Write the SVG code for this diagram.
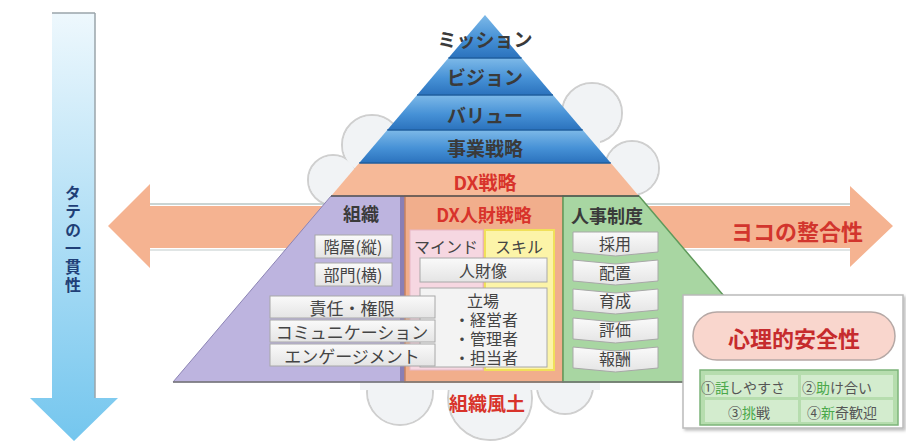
<svg xmlns="http://www.w3.org/2000/svg" width="906" height="441" viewBox="0 0 906 441">
<defs>
<linearGradient id="gVert" x1="0" y1="0" x2="0" y2="1">
<stop offset="0" stop-color="#eef8fd"/>
<stop offset="1" stop-color="#74c6ee"/>
</linearGradient>
<linearGradient id="gBlue" x1="0" y1="0" x2="0" y2="1">
<stop offset="0" stop-color="#7db9e8"/>
<stop offset="0.55" stop-color="#4691d6"/>
<stop offset="1" stop-color="#2b72bd"/>
</linearGradient>
<linearGradient id="gBox" x1="0" y1="0" x2="0" y2="1">
<stop offset="0" stop-color="#fafafa"/>
<stop offset="1" stop-color="#e4e4e4"/>
</linearGradient>
<filter id="sh" x="-10%" y="-10%" width="130%" height="130%">
<feDropShadow dx="2" dy="2" stdDeviation="1.5" flood-color="#000" flood-opacity="0.25"/>
</filter>
</defs>
<style>
text{font-family:"Noto Sans CJK JP","Noto Sans",sans-serif;text-anchor:middle;dominant-baseline:central}
.t{font-weight:bold;fill:#3a3a3a}
.r{font-weight:bold;fill:#d8332b}
.bx{fill:url(#gBox);stroke:#a8a8a8;stroke-width:1}
.n{fill:#444;font-size:16px}
.cl{fill:#f1f3f5;stroke:#cfcfcf;stroke-width:2}
.clf{fill:#f1f3f5}
</style>
<rect width="906" height="441" fill="#ffffff"/>

<g id="vertical-arrow">
<path d="M52,13 H95 V398 H118 L74,441 L30,398 H52 Z" fill="url(#gVert)"/>
<path d="M95,13 V398" stroke="#9aa4aa" stroke-width="1.5"/>
<path d="M52,13 H95" stroke="#9aa4aa" stroke-width="1.5"/>
<text class="t" x="73" y="240" writing-mode="vertical-rl" style="fill:#1f3f77;font-size:16px;letter-spacing:2.5px">タテの一貫性</text>
</g>

<g id="cloud">
<circle class="cl" cx="333" cy="180" r="25"/>
<circle class="cl" cx="372" cy="145" r="30"/>
<circle class="cl" cx="592" cy="113" r="30"/>
<circle class="cl" cx="632" cy="168" r="27"/>
<circle class="cl" cx="400" cy="392" r="33"/>
<circle class="cl" cx="490" cy="398" r="42"/>
<circle class="cl" cx="565" cy="386" r="28"/>
<circle class="clf" cx="333" cy="180" r="24"/>
<circle class="clf" cx="372" cy="145" r="29"/>
<circle class="clf" cx="592" cy="113" r="29"/>
<circle class="clf" cx="632" cy="168" r="26"/>
<circle class="clf" cx="400" cy="392" r="32"/>
<circle class="clf" cx="490" cy="398" r="41"/>
<circle class="clf" cx="565" cy="386" r="27"/>
<rect class="clf" x="360" y="130" width="240" height="260"/>
</g>

<g id="horizontal-arrow">
<path d="M150,204 H850" stroke="#b9c6c4" stroke-width="1.5"/>
<path d="M150,250 H850" stroke="#d6dcdc" stroke-width="1.5"/>
<path d="M108,226 L150,184 V206 H850 V186 L893,226 L850,267 V248 H150 V268 Z" fill="#f5b391"/>
<text class="r" x="797" y="230" style="font-size:22px;fill:#d2352d">ヨコの整合性</text>
</g>

<g id="pyramid">
<polygon points="485,15 521.6,58 448.4,58" fill="url(#gBlue)"/>
<polygon points="448.4,58 521.6,58 553,95 417,95" fill="url(#gBlue)"/>
<polygon points="417,95 553,95 582.75,130 387.25,130" fill="url(#gBlue)"/>
<polygon points="387.25,130 582.75,130 610.8,163 359.2,163" fill="url(#gBlue)"/>
<polygon points="359.2,163 610.8,163 638.85,196 331.15,196" fill="#f6b998"/>
<g stroke="#1f5e9e" stroke-width="1.5">
<line x1="448.4" y1="58" x2="521.6" y2="58"/>
<line x1="417" y1="95" x2="553" y2="95"/>
<line x1="387.25" y1="130" x2="582.75" y2="130"/>
<line x1="359.2" y1="163" x2="610.8" y2="163"/>
</g>
<text class="t" x="485" y="38" style="font-size:19px">ミッション</text>
<text class="t" x="485" y="76" style="font-size:19px">ビジョン</text>
<text class="t" x="485" y="114" style="font-size:19px">バリュー</text>
<text class="t" x="485" y="147" style="font-size:19px">事業戦略</text>
<text class="r" x="485" y="181" style="font-size:19px">DX戦略</text>
</g>

<g id="soshiki">
<polygon points="331,196 405,196 405,382 173,382" fill="#bdb4df" stroke="#8c84b4" stroke-width="1"/>
<rect x="400" y="196" width="5" height="186" fill="#8a7fb5"/>
<text class="t" x="361" y="213" style="font-size:18px">組織</text>
<rect class="bx" x="315" y="235" width="77" height="23"/>
<text class="n" x="353" y="246">階層(縦)</text>
<rect class="bx" x="315" y="263" width="77" height="23"/>
<text class="n" x="353" y="274">部門(横)</text>
</g>

<g id="dx-jinzai">
<rect x="405" y="196" width="158" height="186" fill="#f1ae8c" stroke="#c8835f" stroke-width="1.5"/>
<text class="r" x="484" y="214" style="font-size:18px">DX人財戦略</text>
<rect x="410" y="230" width="73" height="140" fill="#f6d7e1" stroke="#e7b8c6" stroke-width="1"/>
<rect x="485" y="230" width="69" height="140" fill="#fcf4a8" stroke="#f0e05a" stroke-width="2"/>
<text class="n" x="446" y="246">マインド</text>
<text class="n" x="519" y="246">スキル</text>
<rect class="bx" x="420" y="258" width="127" height="24"/>
<text class="n" x="483" y="270">人財像</text>
<rect class="bx" x="420" y="288" width="127" height="79" style="fill:#f3f3f3"/>
<text class="n"><tspan x="483" y="300">立場</tspan><tspan x="486" y="319">・経営者</tspan><tspan x="486" y="338">・管理者</tspan><tspan x="486" y="357">・担当者</tspan></text>
</g>

<g id="soshiki-items">
<rect class="bx" x="270" y="296" width="165" height="22"/>
<text class="n" x="352" y="307" style="font-size:17px">責任・権限</text>
<rect class="bx" x="270" y="320" width="165" height="22"/>
<text class="n" x="352" y="331" style="font-size:17px">コミュニケーション</text>
<rect class="bx" x="270" y="344" width="165" height="22"/>
<text class="n" x="352" y="355" style="font-size:17px">エンゲージメント</text>
</g>

<g id="jinji">
<polygon points="563,196 639,196 797,382 563,382" fill="#a8d6a2" stroke="#5f9a5b" stroke-width="1.5"/>
<text class="t" x="607" y="215" style="font-size:18px">人事制度</text>
<path class="bx" d="M573,232 L658,232 L658,252 L615.5,256 L573,252 Z"/>
<text class="n" x="615" y="243">採用</text>
<path class="bx" d="M573,260 L615.5,264 L658,260 L658,281 L615.5,285 L573,281 Z"/>
<text class="n" x="615" y="272">配置</text>
<path class="bx" d="M573,289 L615.5,293 L658,289 L658,310 L615.5,314 L573,310 Z"/>
<text class="n" x="615" y="300">育成</text>
<path class="bx" d="M573,318 L615.5,322 L658,318 L658,339 L615.5,343 L573,339 Z"/>
<text class="n" x="615" y="329">評価</text>
<path class="bx" d="M573,347 L615.5,351 L658,347 L658,368 L615.5,372 L573,368 Z"/>
<text class="n" x="615" y="358">報酬</text>
</g>
<line x1="331" y1="196" x2="639" y2="196" stroke="#555" stroke-width="1.5"/>
<line x1="173" y1="382" x2="700" y2="382" stroke="#777" stroke-width="1.5"/>

<text id="soshiki-fudo" class="r" x="487" y="402" style="font-size:19px">組織風土</text>

<g id="psych-safety">
<rect x="683" y="295" width="220" height="133" fill="#ffffff" stroke="#bbbbbb" stroke-width="1.5" filter="url(#sh)"/>
<rect x="693" y="312" width="202" height="48" rx="24" fill="#f9d6cd" stroke="#b5a8a5" stroke-width="1.5"/>
<text class="r" x="794" y="337" style="font-size:22px;fill:#c62b2d">心理的安全性</text>
<rect x="700" y="370" width="198" height="55" fill="#b6ddae" stroke="#7cb479" stroke-width="1.5"/>
<rect x="705" y="375" width="93" height="22" fill="#d3ecce"/>
<rect x="801" y="375" width="92" height="22" fill="#d3ecce"/>
<rect x="705" y="400" width="93" height="22" fill="#d3ecce"/>
<rect x="801" y="400" width="92" height="22" fill="#d3ecce"/>
<g style="font-size:14px;fill:#555">
<text x="743" y="387">①<tspan fill="#4aa84a">話</tspan>しやすさ</text>
<text x="837" y="387">②<tspan fill="#4aa84a">助</tspan>け合い</text>
<text x="749" y="412">③<tspan fill="#4aa84a">挑</tspan>戦</text>
<text x="842" y="412">④<tspan fill="#4aa84a">新</tspan>奇歓迎</text>
</g>
</g>
</svg>
